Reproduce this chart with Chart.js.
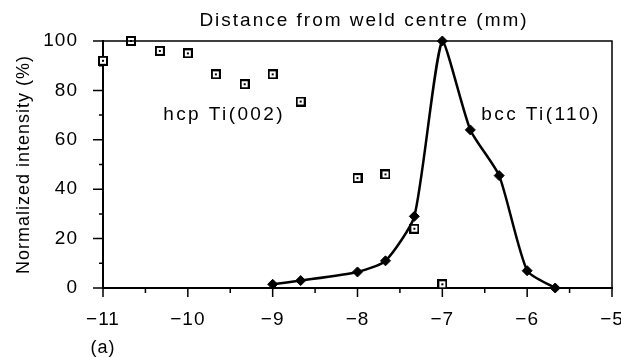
<!DOCTYPE html>
<html>
<head>
<meta charset="utf-8">
<script src="https://cdn.jsdelivr.net/npm/chart.js@4.4.1/dist/chart.umd.min.js"></script>
<style>
html, body { margin: 0; padding: 0; background: #fff; }
</style>
</head>
<body>
<canvas id="chart" width="621" height="357"></canvas>
<script>
// hcp Ti(002) - open squares
const hcpX = [-11, -10.67, -10.33, -10, -9.67, -9.33, -9, -8.67, -8, -7.67, -7.33, -7];
const hcpY = [92, 100, 96, 95, 86.5, 82.5, 86.5, 75.5, 44.5, 46, 24, 1.5];
// bcc Ti(110) - filled diamonds with smooth line
const bccX = [-9, -8.67, -8, -7.67, -7.33, -7, -6.67, -6.33, -6, -5.67];
const bccY = [1.5, 3, 6.5, 11, 29, 100, 64, 45.5, 7, 0];
const xTicks = [-11, -10, -9, -8, -7, -6, -5];
const xMinor = [-10.5, -9.5, -8.5, -7.5, -6.5, -5.5];
const yTicks = [0, 20, 40, 60, 80, 100];
const yMinor = [10, 30, 50, 70, 90];

const FONT = '"Liberation Sans", Arial, sans-serif';

// square marker with a dot in the middle
const sq = document.createElement('canvas');
sq.width = 10; sq.height = 10;
const sc = sq.getContext('2d');
sc.fillStyle = '#fff'; sc.fillRect(0, 0, 10, 10);
sc.strokeStyle = '#000'; sc.lineWidth = 2; sc.strokeRect(1, 1, 8, 8);
sc.fillStyle = '#000'; sc.fillRect(4, 4, 2, 2);

const decor = {
    id: 'decor',
    beforeDraw(chart) {
        chart.ctx.letterSpacing = '1px';
    },
    afterDraw(chart) {
        const { ctx, chartArea: a, scales: { x, y } } = chart;
        ctx.save();
        ctx.strokeStyle = '#000';
        ctx.lineWidth = 1.5;
        ctx.beginPath();
        ctx.moveTo(a.left, a.top);
        ctx.lineTo(a.right, a.top);
        ctx.lineTo(a.right, a.bottom);
        ctx.stroke();

        ctx.beginPath();
        xTicks.forEach(v => { const p = x.getPixelForValue(v); ctx.moveTo(p, a.bottom); ctx.lineTo(p, a.bottom + 9); });
        xMinor.forEach(v => { const p = x.getPixelForValue(v); ctx.moveTo(p, a.bottom); ctx.lineTo(p, a.bottom + 5); });
        yTicks.forEach(v => { const p = y.getPixelForValue(v); ctx.moveTo(a.left, p); ctx.lineTo(a.left - 10, p); });
        yMinor.forEach(v => { const p = y.getPixelForValue(v); ctx.moveTo(a.left, p); ctx.lineTo(a.left - 4, p); });
        ctx.stroke();

        ctx.fillStyle = '#000';
        ctx.font = '19px ' + FONT;
        ctx.letterSpacing = '2px';
        ctx.textAlign = 'center';
        ctx.textBaseline = 'middle';
        ctx.fillText('Distance from weld centre (mm)', 364, 21);

        ctx.textAlign = 'left';
        ctx.textBaseline = 'alphabetic';
        ctx.letterSpacing = '2.4px';
        ctx.fillText('hcp Ti(002)', x.getPixelForValue(-10.29), y.getPixelForValue(68));
        ctx.fillText('bcc Ti(110)', x.getPixelForValue(-6.54), y.getPixelForValue(68));

        ctx.font = '18px ' + FONT;
        ctx.letterSpacing = '1px';
        ctx.textAlign = 'center';
        ctx.textBaseline = 'middle';
        ctx.fillText('(a)', a.left, 348);
        ctx.restore();
    }
};

const ctx = document.getElementById('chart').getContext('2d');
new Chart(ctx, {
    type: 'scatter',
    data: {
        datasets: [
            {
                label: 'bcc Ti(110)',
                data: bccX.map((v, i) => ({ x: v, y: bccY[i] })),
                showLine: true,
                borderColor: '#000',
                borderWidth: 2.5,
                tension: 0.2,
                pointStyle: 'rectRot',
                pointRadius: 5,
                pointBackgroundColor: '#000',
                pointBorderColor: '#000',
                pointBorderWidth: 1,
                clip: false,
                order: 2
            },
            {
                label: 'hcp Ti(002)',
                data: hcpX.map((v, i) => ({ x: v, y: hcpY[i] })),
                showLine: false,
                pointStyle: sq,
                clip: false,
                order: 1
            }
        ]
    },
    options: {
        responsive: false,
        devicePixelRatio: 1,
        animation: false,
        layout: { padding: { top: 41, right: 9, left: 0, bottom: 0 } },
        plugins: { legend: { display: false }, tooltip: { enabled: false } },
        scales: {
            x: {
                type: 'linear',
                min: -11,
                max: -5,
                afterFit: s => { s.height = 69; s.paddingLeft = 0; s.paddingRight = 0; },
                grid: { drawOnChartArea: false, drawTicks: true, tickLength: 10, color: 'rgba(0,0,0,0)' },
                border: { display: true, color: '#000', width: 2 },
                ticks: {
                    stepSize: 1,
                    padding: 10,
                    maxRotation: 0,
                    color: '#000',
                    font: { size: 19, family: FONT },
                    callback: v => v < 0 ? '\u2212' + Math.abs(v) : String(v)
                }
            },
            y: {
                min: 0,
                max: 100,
                afterFit: s => { s.width = 103; },
                grid: { drawOnChartArea: false, drawTicks: true, tickLength: 10, color: 'rgba(0,0,0,0)' },
                border: { display: true, color: '#000', width: 2 },
                ticks: {
                    stepSize: 20,
                    padding: 15,
                    color: '#000',
                    font: { size: 19, family: FONT }
                },
                title: {
                    display: true,
                    text: 'Normalized intensity (%)',
                    color: '#000',
                    font: { size: 18, family: FONT },
                    padding: { top: 13, bottom: 0 }
                }
            }
        }
    },
    plugins: [decor]
});
</script>
</body>
</html>
